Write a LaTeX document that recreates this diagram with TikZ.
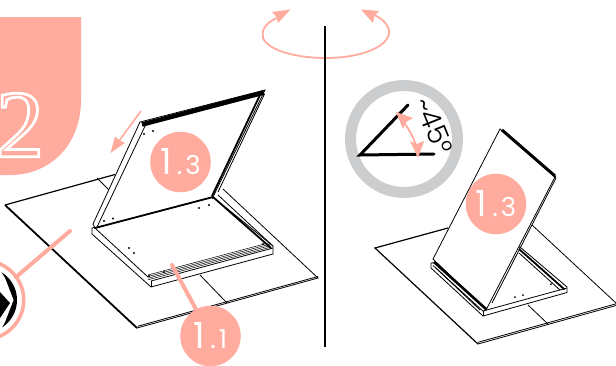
\documentclass[tikz,border=0pt]{standalone}
\usepackage{fontspec}
\setmainfont{Poppins}
\newfontfamily\numserif{Liberation Serif}
\newfontfamily\lightfont[UprightFont=* Light]{Poppins}
\definecolor{peach}{HTML}{FFAB9D}
\definecolor{ringgray}{HTML}{CCCDCF}
\tikzset{
 badge/.style={circle,fill=peach,text=white,minimum size=60.5pt,inner sep=0pt},
 leader/.style={draw=peach,line width=4pt,line cap=round},
 hair/.style={black,line width=.5pt},
 thin1/.style={black,line width=.8pt},
 med/.style={black,line width=1.2pt},
 thick2/.style={black,line width=1.8pt},
 dotp/.style={black,fill=black},
}
\newcommand{\bigsmall}[2]{{\fontsize{36}{36}\selectfont #1}\kern5pt{\fontsize{26}{26}\selectfont .\kern3pt #2}}
\begin{document}
\begin{tikzpicture}[x=1pt,y=-1pt]
\useasboundingbox (0,0) rectangle (616,365);
% tab
\fill[peach] (0,17) -- (81,17) -- (81,100) .. controls (81,145) and (50,175) .. (10,175) -- (0,175) -- cycle;
\node[inner sep=0pt,anchor=center] (two) at (20,125) {\numserif\fontsize{96}{96}\selectfont\special{pdf:code 1 Tr 2.8 w 1 1 1 RG 1 0.67 0.616 rg}2\special{pdf:code 0 Tr}};
% rotation arrows
\draw[peach,line width=1.8pt] (277,18) .. controls (265,23) and (261,31) .. (263,38) .. controls (268,50) and (295,58) .. (326,58) .. controls (360,58) and (389,47) .. (389,32) .. controls (389,25) and (382,18) .. (374,15);
\fill[peach] (290.5,9.5) -- (272,12) -- (276,16) -- (278,23) -- cycle;
\fill[peach] (361,9.5) -- (379,11) -- (374.5,15.5) -- (373,23) -- cycle;
% divider
\draw[black,line width=2pt] (325,26) -- (325,347);
% LEFT sheet
\draw[med] (115,174.5) -- (5,205);
\draw[thick2] (5,205) -- (137,328);
\draw[thin1] (137,328) -- (318,278) -- (223,189);
\draw[thin1] (137.5,326.3) -- (318,276.5);
\draw[thin1] (200,275) -- (227,303);
\draw[thin1] (97,178) -- (110,191);
% LEFT base
\draw[thin1,fill=white] (92,228) -- (92,234) -- (151,287) -- (273,254) -- (273,246) -- (213,197) -- cycle;
\draw[thin1] (96,229) -- (148,277);
\draw[thin1] (151,281) -- (151,287);
\draw[thin1] (151,281) -- (273,248);
\foreach \d in {0,1.6,3.2,4.8} \draw[hair] (148,275+\d) -- (270,242.5+\d);
\draw[thick2] (213,197) -- (271,248);
\draw[thin1] (218,195) -- (273,246);
% LEFT panel
\draw[thin1,fill=white] (93,224) -- (140,122) -- (265,90) -- (213,197) -- (95,228) -- cycle;
\draw[thin1] (97,227) -- (146,124);
\draw[thick2] (95,228) -- (213,197);
\draw[black,line width=4.6pt] (142,124.5) -- (264,92.5);
\draw[thick2] (260,95) -- (212,196);
\draw[thin1] (264.5,94) -- (218,192);
\foreach \p in {(144,134),(153,131),(104,221),(113,218.5),(199,208),(209,205),(129,248),(134,253),(149,276),(164,272),(236,217),(241,221),(263,244),(270,247),(95,228),(213,198)}
  \fill[dotp] \p circle (1.2pt);
% pointer arrow
\draw[peach,line width=1.6pt] (141,111) -- (119,141);
\fill[peach] (110.5,153) -- (115,136.5) -- (120,140.5) -- (125,143) -- cycle;
% magnifier
\fill[white] (-15.6,300) circle (41pt);
\draw[peach,line width=3.6pt] (-15.6,300) circle (39.3pt);
\fill[black] (-15.6,300) circle (32.6pt);
\fill[white] (0,270) -- (5,278) -- (13.5,300) -- (5,322) -- (0,331) -- (-20,331) -- (-20,270) -- cycle;
\fill[black] (-5,287) -- (0,292) -- (10,303) -- (0,318) -- (-5,322) -- cycle;
% leaders + badges
\coordinate (pm) at (70,231);
\coordinate (pm0) at (16,277);
\draw[leader] (pm) -- (pm0);
\coordinate (p11) at (172,265);
\node[badge] (b11) at (210.5,336) {\bigsmall{1}{1}};
\draw[leader] (p11) -- (b11);
\node[badge] (b13) at (180.5,162) {\bigsmall{1}{3}};
% RIGHT sheet
\draw[med] (448,228) -- (375,248) -- (478,344);
\draw[thin1] (478,344) -- (616,305.5);
\draw[thin1] (478,342.3) -- (616,303.8);
\draw[thin1] (532,225) -- (616,303);
\draw[thin1] (528,305) -- (548,324);
% RIGHT base
\draw[thin1,fill=white] (431,263) -- (431,268) -- (483,316) -- (567,292.5) -- (567,287) -- (520,247) -- (470,260) -- cycle;
\draw[thin1] (483,311) -- (483,316);
\draw[thin1] (483,311) -- (567,288);
\draw[thin1] (436,268) -- (480,310);
\draw[thick2] (519,249) -- (564,289);
\draw[thin1] (519,253) -- (560,290);
\fill[dotp] (515,297) circle (1pt);
\fill[dotp] (523,295) circle (1pt);
\fill[dotp] (551,284) circle (1pt);
\fill[dotp] (564,289) circle (1pt);
% RIGHT panel
\draw[thin1,fill=white] (433,259) -- (500,129) -- (555,177) -- (486,310) -- cycle;
\draw[thin1] (556,178) -- (492,303);
\draw[black,line width=2.6pt] (434,262) -- (486,309);
\draw[thin1] (433,265.5) -- (484,312);
\draw[black,line width=3pt] (502,130) -- (555,176);
\fill[dotp] (486,309) circle (1.4pt);
\fill[dotp] (555,177) circle (1.3pt);
\node[badge] (c13) at (496,204) {\bigsmall{1}{3}};
% angle gauge
\draw[ringgray,line width=11pt] (404,139) circle (53.5pt);
\draw[black,line width=3pt,line cap=round] (408,105) -- (360,155) -- (434,154);
\draw[peach,line width=1.8pt] (403,121) .. controls (410,131) and (414,138) .. (416,146);
\fill[peach] (396,112) -- (413,118) -- (406,122) -- (403,129) -- cycle;
\fill[peach] (418,158) -- (410,141) -- (416.5,144) -- (424,141) -- cycle;
\node[rotate=-68,inner sep=0pt] (ang) at (434,126) {\lightfont\fontsize{28}{28}\selectfont\char"007E 45°};
\end{tikzpicture}
\end{document}
